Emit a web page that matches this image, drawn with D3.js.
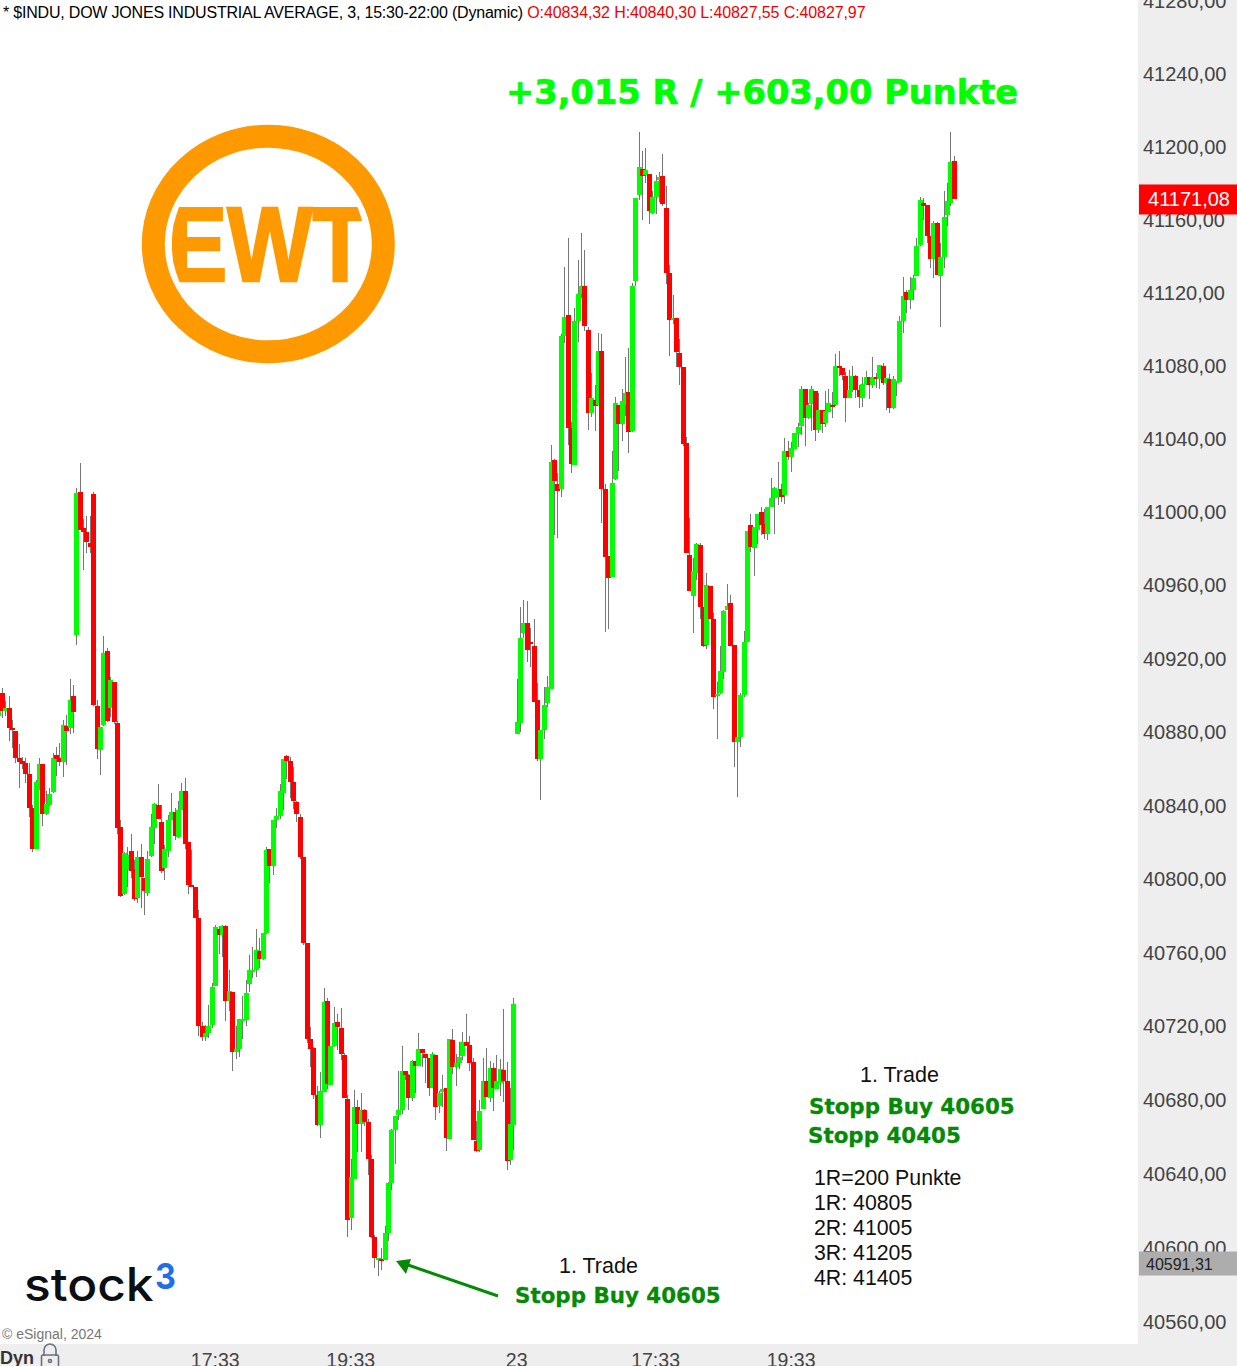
<!DOCTYPE html>
<html><head><meta charset="utf-8">
<script src="https://cdn.jsdelivr.net/npm/d3@7"></script>
<style>html,body{margin:0;padding:0;background:#fff;overflow:hidden}svg{display:block}</style>
</head><body><div id="chart"></div>
<script>
const firstBar = -23;
const directions = [
"grgrrrrrrr","rggrgggrrg","rgrgrrrrrr","ggrgrrrggr","rgrrgggrrg","ggrggrrrrr","rggggrgrgr","gggggggrgg","rggggrrrrr","rrrrrggrgg",
"rrrrggrgrr","rrgrgggggg","rrgrgrrrgr","ggrgrgggrr","rrggrgrggr","rgggggrrrr","ggggrrggrr","gggrrgrgrr","rggrggrggg","rgrgggrrrg",
"rrrrrggrrg","rrggggrrgg","ggrggrrggg","grgrggggrg","grgrggrgrr","rggrrggrgr","grgrggggrg","gggrrrgrgg","ggr"].join("");
const bodyHighs = [
40894.7,40902.1,40893.9,40893.9,40883.0,40881.4,40866.7,40865.0,40864.0,40858.0,
40839.4,40853.6,40863.4,40863.4,40841.6,40847.4,40866.7,40868.3,40866.7,40884.7,
40884.1,40898.3,40900.5,41011.1,41011.7,40992.0,40989.9,40983.9,41010.6,40895.0,
40883.6,40923.9,40925.0,40909.2,40908.1,40885.8,40829.1,40814.9,40813.8,40816.0,
40806.2,40812.7,40812.7,40801.3,40811.6,40829.1,40841.6,40841.1,40831.8,40817.1,
40832.9,40837.3,40837.3,40838.3,40848.7,40848.7,40820.9,40797.5,40796.4,40779.5,
40720.6,40716.8,40720.6,40741.9,40774.6,40773.5,40775.1,40775.1,40739.7,40739.2,
40708.1,40724.4,40724.4,40738.6,40751.1,40751.1,40762.0,40761.5,40771.3,40816.5,
40817.1,40832.9,40835.1,40848.7,40866.1,40867.8,40865.1,40853.6,40842.7,40834.5,
40812.7,40765.9,40713.5,40708.6,40683.0,40685.2,40733.7,40734.3,40709.7,40722.3,
40722.8,40719.5,40704.8,40680.8,40638.3,40676.5,40676.5,40674.8,40674.8,40668.3,
40648.1,40605.6,40594.4,40593.6,40607.8,40635.1,40663.9,40671.6,40674.8,40696.1,
40696.1,40693.9,40701.6,40701.6,40708.1,40708.1,40705.4,40703.2,40705.4,40704.8,
40684.1,40686.3,40686.8,40713.5,40713.0,40700.5,40703.7,40711.9,40711.9,40710.3,
40701.0,40658.0,40674.3,40690.7,40690.7,40697.7,40697.7,40690.7,40697.2,40696.7,
40690.7,40667.2,40732.6,40886.5,40931.9,40940.2,40940.2,40929.7,40927.9,40898.1,
40882.2,40895.9,40905.2,41028.0,41029.2,41016.1,41096.8,41107.0,41108.0,41046.7,
41104.8,41119.5,41124.0,41123.9,41099.8,41063.0,41062.0,41088.3,41088.3,41013.3,
40976.8,41016.7,41060.2,41059.2,41061.4,41065.8,41066.4,41124.0,41172.0,41188.7,
41187.6,41186.9,41185.0,41172.5,41181.3,41183.4,41183.9,41166.4,41131.1,41106.7,
41106.3,41087.7,41079.6,41038.2,40977.4,40968.8,40983.4,40982.7,40949.0,40961.1,
40960.4,40942.5,40901.9,40914.4,40946.9,40949.7,40951.3,40928.3,40878.4,40901.2,
40930.0,40990.4,40993.6,40992.7,40999.7,41000.8,40994.2,41003.5,41008.4,41013.8,
41012.7,41013.3,41034.0,41034.0,41035.6,41043.8,41047.1,41067.8,41067.8,41059.1,
41067.8,41066.7,41056.3,41056.3,41055.8,41060.2,41059.1,41080.3,41080.3,41079.2,
41074.9,41067.2,41074.9,41074.9,41067.2,41070.5,41074.3,41074.3,41074.3,41074.3,
41080.9,41080.3,41073.8,41073.2,41073.2,41072.2,41104.9,41118.5,41120.7,41121.8,
41128.3,41145.8,41170.8,41169.2,41168.1,41151.2,41158.3,41158.3,41139.8,41161.6,
41170.3,41191.5,41192.1];
const bodyLows = [
40889.6,40892.3,40892.3,40883.0,40881.9,40866.7,40864.5,40863.4,40858.0,40839.4,
40817.1,40817.1,40849.3,40836.2,40836.2,40841.1,40848.2,40866.1,40864.5,40864.5,
40881.4,40883.0,40891.8,40933.7,40991.0,40989.9,40984.4,40981.7,40895.6,40871.6,
40871.0,40884.7,40886.9,40893.9,40886.3,40828.5,40791.5,40792.6,40805.6,40805.1,
40789.9,40790.4,40801.8,40794.2,40793.1,40813.3,40828.5,40833.4,40805.1,40806.7,
40816.0,40832.9,40824.2,40823.6,40838.3,40819.8,40797.5,40796.4,40779.5,40720.6,
40714.6,40714.6,40716.8,40721.2,40742.4,40770.2,40770.2,40734.3,40734.3,40706.5,
40706.5,40708.1,40723.4,40723.9,40743.5,40750.1,40751.1,40757.1,40757.1,40771.3,
40807.8,40807.8,40832.9,40835.1,40847.6,40865.1,40853.6,40843.3,40836.2,40812.7,
40765.9,40713.5,40708.1,40683.0,40666.7,40666.7,40684.7,40689.0,40688.5,40709.7,
40720.1,40705.4,40681.4,40614.9,40616.0,40637.2,40667.2,40667.2,40668.3,40648.1,
40605.6,40594.2,40593.1,40592.6,40593.1,40607.8,40635.1,40663.9,40672.1,40674.8,
40693.9,40681.4,40681.4,40698.8,40698.8,40705.9,40703.2,40686.8,40686.8,40676.5,
40677.0,40684.7,40659.6,40659.0,40698.3,40698.3,40700.5,40704.3,40709.7,40700.5,
40658.5,40652.5,40653.0,40675.4,40681.9,40681.4,40686.8,40686.3,40689.6,40690.7,
40647.1,40647.6,40666.7,40879.6,40886.1,40934.8,40925.5,40928.9,40897.5,40866.3,
40866.3,40882.2,40896.7,40904.6,41017.9,41012.5,41013.1,41096.8,41046.7,41027.2,
41026.6,41104.8,41119.5,41102.2,41054.5,41054.5,41058.5,41059.0,41013.3,40976.2,
40964.8,40965.6,41018.9,41048.9,41048.9,41059.0,41044.6,41045.1,41126.5,41173.6,
41184.1,41184.6,41164.8,41163.9,41172.5,41181.8,41168.8,41131.1,41105.6,41105.4,
41088.2,41079.6,41037.8,40978.5,40957.8,40955.1,40967.4,40949.0,40927.9,40928.3,
40942.5,40900.2,40900.5,40902.3,40913.7,40947.6,40927.9,40875.6,40875.6,40878.4,
40901.2,40930.0,40981.8,40981.1,40990.9,40993.7,40988.8,40988.8,41003.5,41008.4,
41009.1,41008.9,41010.0,41030.7,41030.7,41035.1,41043.3,41047.6,41052.0,41052.0,
41059.6,41045.5,41045.5,41048.7,41049.3,41055.3,41058.0,41059.1,41079.2,41075.4,
41062.9,41062.9,41067.2,41067.2,41063.4,41062.9,41070.5,41070.0,41070.0,41073.2,
41073.2,41071.1,41071.1,41057.4,41057.4,41071.1,41071.6,41104.9,41116.3,41116.3,
41121.8,41129.4,41146.3,41167.6,41151.2,41138.7,41138.7,41129.9,41129.4,41139.8,
41162.7,41169.2,41171.08];
const highs = [
40898.3,40904.8,40897.9,40900.5,40887.4,40881.4,40874.3,40867.2,40866.7,40864.0,
40841.1,40854.7,40866.7,40863.4,40848.7,40850.3,40869.4,40872.7,40874.9,40887.4,
40890.1,40909.8,40906.5,41013.8,41027.5,40997.0,40998.6,40998.6,41011.7,40898.3,
40883.6,40933.2,40926.6,40911.0,40908.1,40886.9,40832.9,40815.6,40818.2,40825.3,
40811.1,40816.0,40819.8,40801.3,40816.0,40836.2,40842.2,40852.5,40841.1,40819.3,
40835.6,40847.6,40839.4,40843.3,40853.1,40855.8,40820.9,40816.5,40796.4,40783.8,
40722.8,40721.2,40732.1,40744.1,40775.7,40775.1,40775.7,40775.7,40751.1,40739.2,
40720.6,40724.4,40737.0,40745.7,40759.3,40763.7,40773.5,40768.6,40771.3,40818.2,
40817.1,40832.9,40839.4,40852.5,40866.1,40868.3,40867.2,40861.8,40843.3,40836.2,
40812.7,40765.9,40720.1,40709.2,40687.9,40695.6,40741.3,40735.9,40709.7,40731.0,
40727.2,40730.4,40705.9,40683.0,40648.1,40685.7,40680.3,40684.1,40675.4,40669.9,
40650.3,40606.7,40594.4,40599.6,40611.6,40635.6,40664.5,40671.6,40696.1,40709.7,
40696.1,40694.5,40702.1,40701.6,40716.8,40708.1,40705.4,40703.2,40706.5,40704.8,
40685.2,40693.9,40686.8,40713.5,40719.0,40705.4,40711.9,40717.4,40727.2,40715.2,
40703.2,40668.9,40680.3,40703.2,40708.6,40701.6,40700.5,40704.8,40702.6,40729.9,
40701.0,40686.8,40735.9,40910.0,40948.9,40952.7,40952.1,40937.4,40942.4,40907.8,
40882.2,40905.2,40911.2,41037.4,41029.8,41022.1,41097.8,41134.2,41150.0,41050.1,
41111.7,41138.0,41152.9,41143.5,41101.4,41076.7,41069.8,41098.6,41097.6,41015.9,
40976.8,41034.2,41063.4,41059.2,41068.0,41085.1,41089.9,41125.4,41172.0,41207.8,
41197.3,41199.2,41185.0,41175.7,41184.6,41186.2,41195.9,41178.5,41135.5,41119.3,
41106.3,41094.9,41079.6,41041.5,40997.6,40976.0,40984.1,40984.1,40949.0,40967.6,
40960.4,40945.8,40908.4,40927.6,40947.6,40961.6,40955.5,40928.3,40878.4,40902.3,
40936.0,40990.4,40999.6,40992.7,40999.7,41003.5,41002.4,41003.5,41019.3,41014.4,
41028.0,41016.0,41041.1,41039.5,41038.9,41043.8,41049.3,41069.4,41067.8,41060.2,
41069.4,41066.7,41065.6,41056.3,41066.7,41067.8,41066.2,41086.9,41088.5,41079.2,
41077.1,41078.1,41080.3,41075.4,41070.0,41074.3,41077.6,41074.3,41085.2,41076.5,
41080.9,41082.0,41073.8,41076.0,41074.9,41072.2,41107.6,41128.9,41121.8,41128.9,
41129.9,41150.1,41172.5,41171.9,41168.1,41151.2,41159.4,41158.8,41147.4,41175.7,
41180.1,41207.9,41194.8];
const lows = [
40889.2,40888.7,40889.6,40876.1,40872.3,40863.8,40850.5,40860.7,40853.2,40834.7,
40815.6,40817.1,40849.3,40829.6,40835.8,40840.5,40847.8,40856.9,40862.3,40856.3,
40862.9,40879.8,40880.3,40928.3,40991.0,40969.2,40978.4,40978.4,40895.0,40866.1,
40857.4,40884.1,40886.3,40889.2,40885.2,40825.3,40790.9,40792.0,40796.6,40801.3,
40788.8,40787.7,40785.0,40781.1,40791.5,40812.7,40819.8,40833.4,40804.0,40800.2,
40812.7,40832.9,40822.0,40823.1,40838.3,40817.1,40792.6,40796.4,40779.5,40715.2,
40712.5,40712.5,40714.1,40719.5,40742.4,40759.9,40758.2,40723.4,40728.8,40696.1,
40702.6,40703.7,40713.5,40720.6,40739.2,40746.8,40747.3,40752.2,40756.6,40770.8,
40798.6,40802.9,40828.5,40833.4,40838.3,40855.2,40844.9,40838.9,40831.8,40811.6,
40764.8,40711.4,40698.3,40680.8,40666.1,40659.6,40684.7,40686.3,40688.5,40709.2,
40707.5,40702.1,40681.4,40605.8,40609.4,40637.2,40652.0,40652.0,40666.1,40639.4,
40605.1,40588.7,40584.6,40587.6,40593.1,40603.5,40631.2,40645.4,40669.4,40672.7,
40691.2,40674.8,40679.8,40684.1,40698.8,40698.3,40689.6,40682.5,40686.8,40669.4,
40673.2,40676.5,40652.5,40659.0,40694.5,40687.9,40697.2,40702.1,40709.7,40696.1,
40658.5,40652.0,40652.0,40675.4,40681.9,40679.2,40674.3,40686.3,40682.5,40679.2,
40642.1,40644.9,40653.0,40879.6,40881.2,40932.4,40918.9,40916.5,40897.5,40865.3,
40844.0,40877.2,40894.5,40904.6,40988.3,40986.5,41008.8,41092.8,41037.2,41021.9,
41026.6,41093.4,41117.3,41099.2,41045.7,41052.5,41044.7,41059.0,40994.8,40935.2,
40936.8,40965.6,41018.3,41023.3,41039.6,41053.1,41033.0,41044.6,41124.2,41170.6,
41159.7,41180.2,41157.6,41163.0,41163.4,41169.5,41167.6,41125.3,41085.6,41103.0,
41079.6,41070.0,41036.6,40978.5,40957.8,40934.8,40963.9,40942.5,40927.2,40926.2,
40942.5,40893.7,40877.2,40901.9,40910.0,40947.6,40927.9,40862.1,40845.4,40872.6,
40900.0,40930.0,40979.0,40966.0,40983.3,40988.2,40986.0,40985.5,41003.5,40988.8,
41004.6,41006.2,41005.1,41029.1,41022.6,41035.1,41036.2,41042.7,41036.7,41051.4,
41044.9,41039.5,41043.8,41043.8,41047.1,41055.3,41052.0,41058.5,41074.9,41072.7,
41049.8,41062.9,41066.2,41062.9,41057.4,41058.0,41070.0,41062.3,41068.3,41068.3,
41067.8,41070.0,41056.3,41054.7,41056.9,41064.0,41071.6,41098.3,41109.2,41111.4,
41116.3,41129.4,41145.8,41159.9,41147.4,41133.8,41128.3,41129.9,41101.6,41133.8,
41156.7,41167.6,41171.08];

const priceTicks = [41280,41240,41200,41160,41120,41080,41040,41000,40960,40920,40880,40840,40800,40760,40720,40680,40640,40600,40560];
const timeTickBars = [41,81,130,171,211];
const timeTickLabels = ["17:33","19:33","23","17:33","19:33"];
const lastPrice = 41171.08, crossPrice = 40591.31;

const W=1237,H=1366,FONT="'Liberation Sans',Arial,sans-serif",VERD="'DejaVu Sans',sans-serif";
const svg=d3.select("#chart").append("svg").attr("width",W).attr("height",H).attr("viewBox",`0 0 ${W} ${H}`);
const x=d3.scaleLinear().domain([0,259]).range([76.3,953.7]);
const y=d3.scaleLinear().domain([41240,40560]).range([73,1321]);       // bar values were read against this
const yAxisScale=d3.scaleLog().domain([41240,40560]).range([73,1321]);  // the price axis is logarithmic
const comma=v=>d3.format(".2f")(v).replace(".",",");
const bars=d3.range(bodyHighs.length).map(k=>({i:firstBar+k,up:directions[k]==="g",top:bodyHighs[k],bot:bodyLows[k],hi:highs[k],lo:lows[k]}));

svg.append("rect").attr("width",W).attr("height",H).attr("fill","#fff");

// candles, later bars over earlier ones
const candle=svg.append("g").attr("class","candles").selectAll("g").data(bars).join("g");
candle.append("rect").attr("x",d=>Math.round(x(d.i))).attr("width",1)
  .attr("y",d=>Math.round(y(d.hi))).attr("height",d=>Math.max(1,Math.round(y(d.lo))-Math.round(y(d.hi)))).attr("fill","#777");
candle.append("rect").attr("x",d=>Math.round(x(d.i))-2).attr("width",5)
  .attr("y",d=>Math.round(y(d.top))).attr("height",d=>Math.max(2,Math.round(y(d.bot))-Math.round(y(d.top))))
  .attr("fill",d=>d.up?"#00ff00":"#ff0000");

// bands and axes
svg.append("rect").attr("x",1138).attr("y",0).attr("width",99).attr("height",H).attr("fill","#eeeeee");
svg.append("rect").attr("x",0).attr("y",1344).attr("width",W).attr("height",22).attr("fill","#eeeeee");
const yAxis=svg.append("g").attr("transform","translate(1143,1)")
  .call(d3.axisRight(yAxisScale).tickValues(priceTicks).tickSize(0).tickPadding(0).tickFormat(comma));
yAxis.select(".domain").remove();
yAxis.selectAll("text").attr("font-family",FONT).attr("font-size",20).attr("fill","#444");
const xAxis=svg.append("g").attr("transform","translate(-0.5,1344)")
  .call(d3.axisBottom(x).tickValues(timeTickBars).tickSize(0).tickPadding(9).tickFormat((d,k)=>timeTickLabels[k]));
xAxis.select(".domain").remove();
xAxis.selectAll("text").attr("font-family",FONT).attr("font-size",19.5).attr("fill","#444");

// price tags
svg.append("rect").attr("x",1139).attr("y",y(lastPrice)-15).attr("width",98).attr("height",30).attr("fill","#ff0000");
svg.append("text").attr("x",1189).attr("y",y(lastPrice)+7).attr("text-anchor","middle").attr("font-family",FONT).attr("font-size",20).attr("fill","#fff").text(comma(lastPrice));
svg.append("rect").attr("x",1139).attr("y",y(crossPrice)-12).attr("width",98).attr("height",24).attr("fill","#adadad");
svg.append("text").attr("x",1146).attr("y",y(crossPrice)+6).attr("font-family",FONT).attr("font-size",16).attr("fill","#222").text(comma(crossPrice));

// header
const head=svg.append("text").attr("x",3).attr("y",18).attr("font-family",FONT).attr("font-size",16);
head.append("tspan").attr("fill","#000").attr("letter-spacing",-0.2).text("* $INDU, DOW JONES INDUSTRIAL AVERAGE, 3, 15:30-22:00 (Dynamic) ");
head.append("tspan").attr("fill","#f00000").attr("letter-spacing",-0.1).text("O:40834,32 H:40840,30 L:40827,55 C:40827,97");

// headline
svg.append("text").attr("x",506).attr("y",104).attr("font-family",VERD).attr("font-weight",700).attr("font-size",33.7).attr("fill","#00ff00").attr("stroke","#00ff00").attr("stroke-width",0.7).text("+3,015 R / +603,00 Punkte");

// logo
const logo=svg.append("g");
logo.append("ellipse").attr("cx",268.3).attr("cy",244).attr("rx",115).attr("ry",107.8).attr("fill","none").attr("stroke","#ff9900").attr("stroke-width",23);
const defs=svg.append("defs");
defs.append("clipPath").attr("id","ewtClip").append("ellipse").attr("cx",268.3).attr("cy",244).attr("rx",96.5).attr("ry",97);
logo.append("g").attr("clip-path","url(#ewtClip)").append("text")
  .attr("transform","translate(167,281) scale(0.86,1)").attr("font-family",FONT).attr("font-weight",700).attr("font-size",105)
  .attr("fill","#ff9900").attr("stroke","#ff9900").attr("stroke-width",2.5).text("EWT");

// notes
const DARKGREEN="#058a05";
const note=(t,px,py,bold,size,fill)=>{const s=svg.append("text").attr("x",px).attr("y",py).attr("font-family",bold?VERD:FONT).attr("font-weight",bold?700:400).attr("font-size",size).attr("fill",fill).text(t); if(bold) s.attr("stroke",fill).attr("stroke-width",0.3);};
note("1. Trade",559,1273,false,21.5,"#111");
note("Stopp Buy 40605",515,1303,true,21.4,DARKGREEN);
note("1. Trade",860,1082,false,21.5,"#111");
note("Stopp Buy 40605",809,1114,true,21.4,DARKGREEN);
note("Stopp 40405",808,1143,true,21.4,DARKGREEN);
["1R=200 Punkte","1R: 40805","2R: 41005","3R: 41205","4R: 41405"].forEach((t,k)=>note(t,814,1185+k*25,false,21.3,"#111"));

// arrow
svg.append("line").attr("x1",498).attr("y1",1296).attr("x2",408).attr("y2",1265).attr("stroke",DARKGREEN).attr("stroke-width",3);
svg.append("path").attr("d","M396,1261 L411,1259 L406,1274 Z").attr("fill",DARKGREEN);

// brand
svg.append("text").attr("transform","translate(24,1301) scale(1.08,1)").attr("font-family","Inter,sans-serif").attr("font-weight",500).attr("font-size",46).attr("fill","#0b0f14").text("stock");
svg.append("text").attr("transform","translate(155,1289) scale(0.9,1)").attr("font-family","Inter,sans-serif").attr("font-weight",700).attr("font-size",36).attr("fill","#1f6fe8").text("3");
svg.append("text").attr("x",2).attr("y",1339).attr("font-family",FONT).attr("font-size",14).attr("fill","#777").text("© eSignal, 2024");
svg.append("text").attr("x",0).attr("y",1364).attr("font-family",FONT).attr("font-weight",700).attr("font-size",18).attr("fill","#333").text("Dyn");
const lock=svg.append("g").attr("fill","none").attr("stroke","#6b7080").attr("stroke-width",1.6);
lock.append("path").attr("d","M44,1356 v-6 a6,6 0 0 1 12,0 v6");
lock.append("rect").attr("x",41.5).attr("y",1355).attr("width",17).attr("height",14).attr("rx",1.5);
lock.append("circle").attr("cx",50).attr("cy",1361).attr("r",1.5);
</script></body></html>
